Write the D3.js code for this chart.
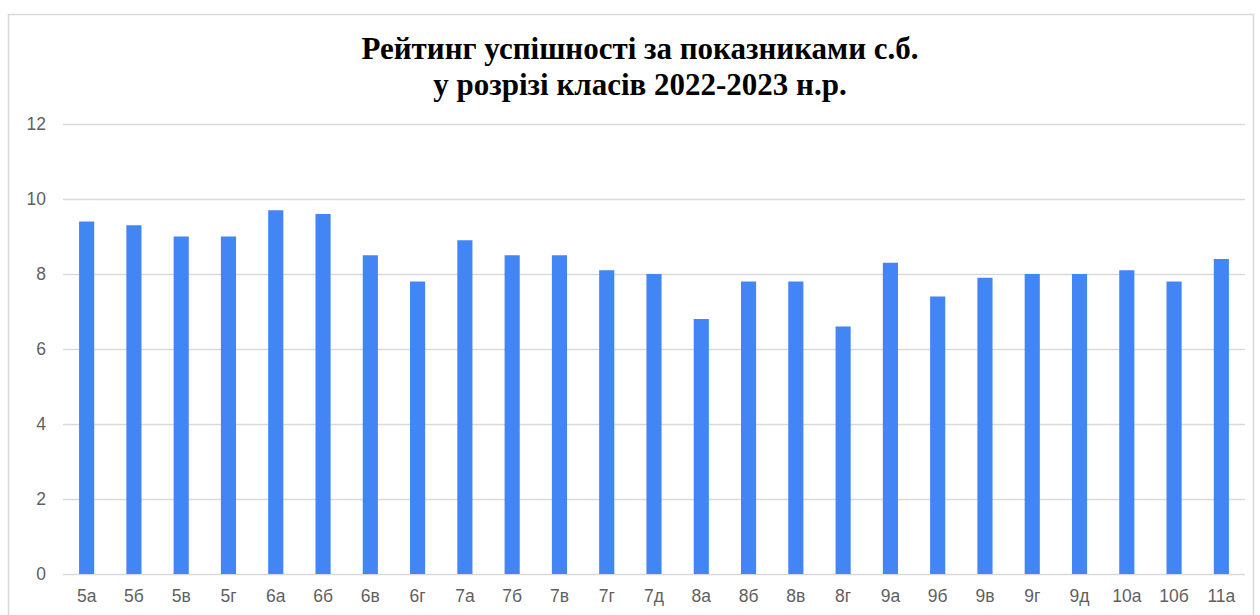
<!DOCTYPE html>
<html><head><meta charset="utf-8">
<script src="https://cdn.jsdelivr.net/npm/d3@7"></script>
<style>html,body{margin:0;padding:0;background:#fff;}svg{display:block;}</style>
</head><body>
<svg id="c" width="1260" height="615"></svg>
<script>
const categories = ["5а","5б","5в","5г","6а","6б","6в","6г","7а","7б","7в","7г","7д","8а","8б","8в","8г","9а","9б","9в","9г","9д","10а","10б","11а"];
const values = [9.4,9.3,9.0,9.0,9.7,9.6,8.5,7.8,8.9,8.5,8.5,8.1,8.0,6.8,7.8,7.8,6.6,8.3,7.4,7.9,8.0,8.0,8.1,7.8,8.4];
const yTicks = [0,2,4,6,8,10,12];
const titleLines = ["Рейтинг успішності за показниками с.б.","у розрізі класів 2022-2023 н.р."];

const svg = d3.select("#c");
svg.append("rect").attr("x",8.5).attr("y",14.5).attr("width",1245).attr("height",620)
  .attr("fill","#fff").attr("stroke","#d9d9d9").attr("stroke-width",1.5);

const m = {l:63, r:1245, t:124, b:574};
const x = d3.scaleBand().domain(categories).range([m.l,m.r]).paddingInner(0.68).paddingOuter(0.34);
const y = d3.scaleLinear().domain([0,12]).range([m.b,m.t]);

const yAxis = svg.append("g").attr("transform",`translate(${m.l},0)`)
  .call(d3.axisLeft(y).tickValues(yTicks).tickSize(-(m.r-m.l)).tickPadding(17));
yAxis.select(".domain").remove();
yAxis.selectAll(".tick line").attr("stroke","#d9d9d9").attr("stroke-width",1.5);
yAxis.selectAll(".tick text").attr("fill","#5f5f5f").attr("font-family","Liberation Sans, Arial, sans-serif").attr("font-size",17.5);

svg.append("g").selectAll("rect").data(values).join("rect")
  .attr("x",(d,i)=>x(categories[i])).attr("width",x.bandwidth())
  .attr("y",d=>y(d)).attr("height",d=>y(0)-y(d)).attr("fill","#4285f4");

const xAxis = svg.append("g").attr("transform",`translate(0,${m.b})`)
  .call(d3.axisBottom(x).tickSize(0).tickPadding(16));
xAxis.select(".domain").remove();
xAxis.selectAll(".tick text").attr("fill","#5f5f5f").attr("font-family","Liberation Sans, Arial, sans-serif").attr("font-size",17.5);

svg.append("g").selectAll("text").data(titleLines).join("text")
  .attr("x",640).attr("y",(d,i)=>59+i*36).attr("text-anchor","middle")
  .attr("font-family","Liberation Serif, Times New Roman, serif").attr("font-weight","bold")
  .attr("font-size",31).attr("fill","#000").text(d=>d);
</script>
</body></html>
